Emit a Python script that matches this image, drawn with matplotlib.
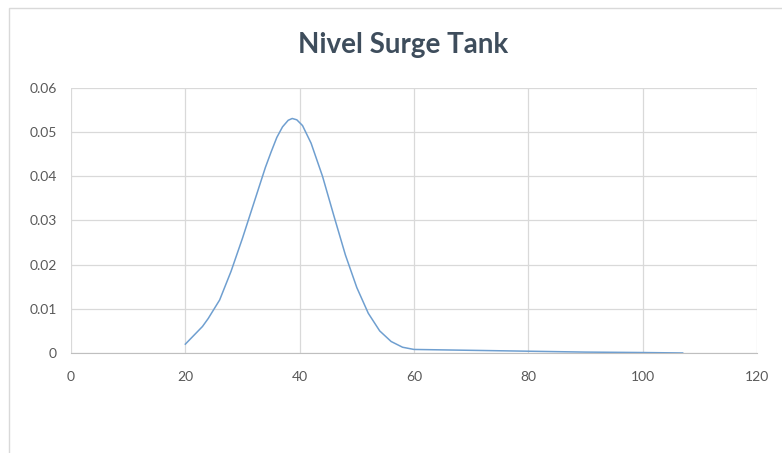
import matplotlib
matplotlib.use("Agg")
import matplotlib.pyplot as plt
from matplotlib.patches import Rectangle

# values
time = [20, 23, 24, 26, 28, 30, 32, 34, 35, 36, 37, 38, 38.7, 39.5, 40.5,
        42, 44, 46, 48, 50, 52, 54, 56, 58, 60, 70, 80, 90, 100, 107]
level = [0.0020, 0.0060, 0.0078, 0.0120, 0.0185, 0.0260, 0.0340, 0.0420,
         0.0455, 0.0488, 0.0512, 0.0527, 0.0531, 0.0528, 0.0515,
         0.0475, 0.0400, 0.0310, 0.0222, 0.0148, 0.0090, 0.0050, 0.0026,
         0.0013, 0.0008, 0.0006, 0.0004, 0.0002, 0.0001, 0.0]

xticks = [0, 20, 40, 60, 80, 100, 120]
yticks = [0, 0.01, 0.02, 0.03, 0.04, 0.05, 0.06]
ylabels = ["0", "0.01", "0.02", "0.03", "0.04", "0.05", "0.06"]

plt.rcParams['font.family'] = ['Lato', 'DejaVu Sans']

fig = plt.figure(figsize=(7.82, 4.53), dpi=100)
# chart area border (runs off the right and bottom of the image)
fig.patches.append(Rectangle((0.0115, -0.05), 1.05, 1.032, transform=fig.transFigure,
                             fill=False, edgecolor='#D9D9D9', linewidth=1))

ax = fig.add_axes([0.0908, 0.2208, 0.8772, 0.5849])
ax.plot(time, level, color='#6F9FD0', linewidth=1.1, zorder=3)

ax.set_xlim(0, 120)
ax.set_ylim(0, 0.06)
ax.set_xticks(xticks)
ax.set_yticks(yticks)
ax.set_yticklabels(ylabels)
ax.grid(True, color='#D9D9D9', linewidth=0.9)
ax.set_axisbelow(True)
for s in ['top', 'right', 'left']:
    ax.spines[s].set_visible(False)
ax.spines['bottom'].set_color('#BFBFBF')
ax.tick_params(length=0, labelsize=10, colors='#595959', pad=13)
ax.tick_params(axis='y', pad=10)

fig.text(0.515, 0.9, "Nivel Surge Tank", ha='center', va='center',
         fontsize=20, fontweight='bold', color='#3E4D5C')

fig.savefig("out.png", dpi=100)
